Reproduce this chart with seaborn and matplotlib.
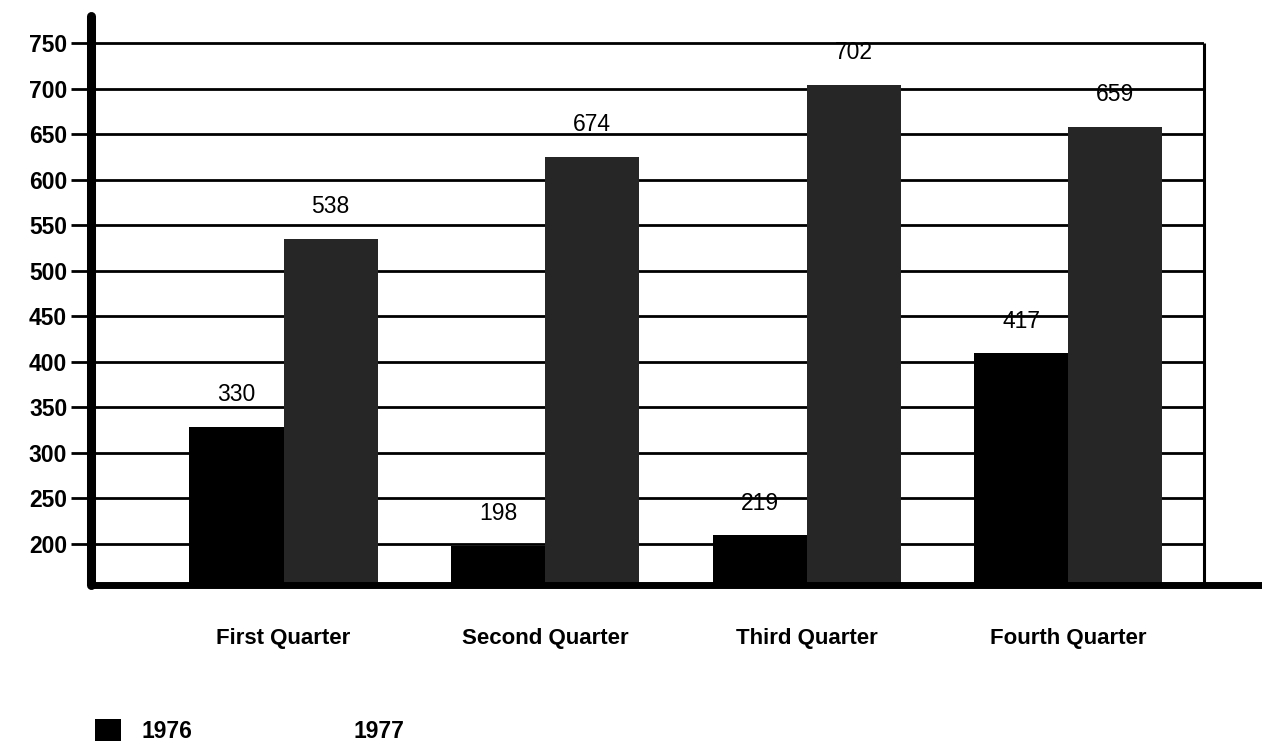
import matplotlib
matplotlib.use("Agg")
import matplotlib.pyplot as plt
from matplotlib.patches import Patch
from matplotlib.lines import Line2D
import seaborn as sns
import pandas as pd

# ---- data ----
quarters = ["First Quarter", "Second Quarter", "Third Quarter", "Fourth Quarter"]
years = ["1976", "1977"]
sales_1976 = [328, 197, 209, 409]
sales_1977 = [535, 625, 704, 658]
labels_1976 = ["330", "198", "219", "417"]
labels_1977 = ["538", "674", "702", "659"]
y_ticks = [200, 250, 300, 350, 400, 450, 500, 550, 600, 650, 700, 750]

df = pd.DataFrame({
    "quarter": quarters * 2,
    "year": [years[0]] * 4 + [years[1]] * 4,
    "sales": sales_1976 + sales_1977,
})

sns.set_theme(style="white")
plt.rcParams["font.family"] = ["Liberation Sans", "DejaVu Sans"]
plt.rcParams["text.color"] = "black"
plt.rcParams["xtick.color"] = "black"
plt.rcParams["ytick.color"] = "black"
plt.rcParams["axes.labelcolor"] = "black"

W, H = 1262, 749
fig = plt.figure(figsize=(W / 100, H / 100), dpi=100)
left_px, right_px, bottom_px, top_px = 91.5, 1203.5, 584.5, 16
ax = fig.add_axes([left_px / W, 1 - bottom_px / H,
                   (right_px - left_px) / W, (bottom_px - top_px) / H])

palette = {"1976": "#000000", "1977": "#262626"}
sns.barplot(data=df, x="quarter", y="sales", hue="year", order=quarters,
            hue_order=years, palette=palette, width=0.72, saturation=1,
            errorbar=None, legend=False, ax=ax, zorder=3, linewidth=0)

ax.set_xlim(-0.734, 3.517)
ax.set_ylim(155, 779.7)
ax.set_yticks(y_ticks)
ax.set_yticklabels([str(v) for v in y_ticks])
ax.set_xlabel("")
ax.set_ylabel("")

# grid lines
ax.set_axisbelow(True)
ax.yaxis.grid(True, color="black", linewidth=2.0)
ax.xaxis.grid(False)

# ticks
ax.tick_params(axis="y", which="major", direction="out", length=14.5,
               width=2.0, color="black", labelcolor="black", pad=3,
               labelsize=16.5, left=True)
ax.tick_params(axis="x", length=0, pad=31, labelsize=16, labelcolor="black")
for t in ax.get_yticklabels():
    t.set_fontweight("bold")
for t in ax.get_xticklabels():
    t.set_fontweight("bold")

# spines
for s in ["top", "right", "bottom"]:
    ax.spines[s].set_visible(False)
ax.spines["left"].set_color("black")
ax.spines["left"].set_linewidth(6.5)
ax.spines["left"].set_capstyle("round")
ax.spines["left"].set_zorder(5)

# thick base line extending past the axes to the right edge
ext = (W - left_px) / (right_px - left_px)
ax.add_line(Line2D([0, ext], [0, 0], transform=ax.transAxes, color="black",
                   linewidth=5, solid_capstyle="butt", clip_on=False, zorder=6))
# right border from base to top gridline
ax.plot([3.517, 3.517], [155, 750], color="black", linewidth=2.2,
        clip_on=False, zorder=4, solid_capstyle="butt")

# value labels
for cont, labs in zip(ax.containers, [labels_1976, labels_1977]):
    ax.bar_label(cont, labels=labs, padding=15, fontsize=16.5, color="black")

# legend
handles = [Patch(facecolor="#000000", edgecolor="none", label="1976"),
           Patch(facecolor="white", edgecolor="none", label="1977")]
leg = fig.legend(handles=handles, loc="center left",
                 bbox_to_anchor=(95 / W, 1 - 731 / H), ncol=2, frameon=False,
                 borderaxespad=0, borderpad=0, handlelength=1.13,
                 handleheight=1.1, handletextpad=0.9, columnspacing=5.0,
                 prop={"size": 16.5, "weight": "bold"}, labelcolor="black")

fig.savefig("out.png", dpi=100, facecolor="white")
